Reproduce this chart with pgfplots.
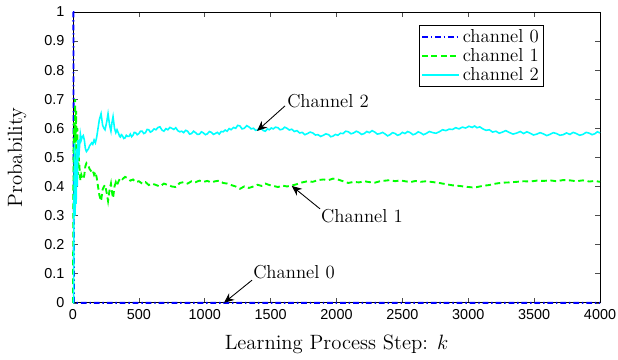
\documentclass[border=0pt]{standalone}
\usepackage{fontspec}
\setsansfont{Liberation Sans}
\usepackage{pgfplots}
\pgfplotsset{compat=1.18}
\usetikzlibrary{arrows.meta}
\definecolor{chblue}{rgb}{0,0,1}
\definecolor{chgreen}{rgb}{0,1,0}
\definecolor{chcyan}{rgb}{0,1,1}
\begin{document}
\begin{tikzpicture}
\begin{axis}[
  scale only axis, width=366pt, height=202pt,
  xmin=0, xmax=4000, ymin=0, ymax=1,
  clip=false,
  xtick={0,500,1000,1500,2000,2500,3000,3500,4000},
  ytick={0,0.1,0.2,0.3,0.4,0.5,0.6,0.7,0.8,0.9,1},
  scaled x ticks=false,
  /pgf/number format/1000 sep={},
  /pgf/number format/assume math mode=true,
  tick label style={font=\sffamily\fontsize{10}{12}\selectfont},
  yticklabel style={xshift=-2.5pt},
  xticklabel style={yshift=-1pt},
  tick align=inside, major tick length=3.5pt,
  every tick/.style={black!70, line width=0.4pt},
  axis line style={black, line width=0.5pt},
  xlabel={Learning Process Step: $k$},
  ylabel={Probability},
  label style={font=\fontsize{14.4}{16}\selectfont},
  x label style={at={(axis description cs:0.5,-0.144)}, anchor=center},
  y label style={at={(axis description cs:-0.106,0.5)}, anchor=center, rotate=0},
  legend style={at={(axis cs:3570,0.955)}, anchor=north east, draw=black, line width=0.5pt,
    font=\fontsize{13}{13}\selectfont, inner sep=1pt, row sep=-1.5pt,
    cells={anchor=west}},
  legend image code/.code={\draw[#1] (0cm,0cm) -- (0.9cm,0cm);},
]
\addplot[color=chblue, line width=1.3pt, dash pattern=on 4pt off 2pt on 1pt off 2pt] coordinates {
(0,1) (3,1) (6,0.3) (8,0) (4000,0)};
\addlegendentry{channel 0}
\addplot[color=chgreen, line width=1.3pt, dash pattern=on 4pt off 2.5pt] coordinates {
(0,0) (4,0.50) (8,0.62) (12,0.45) (16,0.70) (20,0.55) (24,0.66) (28,0.47) (33,0.60) (38,0.44)
(44,0.50) (50,0.46) (56,0.42) (63,0.44) (70,0.43) (78,0.425) (86,0.44) (94,0.47) (102,0.48)
(110,0.475) (118,0.47) (126,0.46) (134,0.455) (142,0.45) (150,0.455) (160,0.44) (170,0.45)
(180,0.43) (190,0.40) (200,0.37) (213,0.35) (225,0.39) (235,0.40) (243,0.405) (255,0.38)
(266,0.35) (278,0.39) (288,0.41) (296,0.38) (304,0.36) (315,0.40) (325,0.415) (334,0.405)
(348,0.42) (360,0.43) (375,0.425) (395,0.433) (415,0.428) (435,0.42) (455,0.424) (475,0.415)
(500,0.418) (525,0.41) (550,0.415) (575,0.405) (600,0.41) (630,0.405) (660,0.40) (690,0.41)
(720,0.405) (750,0.40) (780,0.398) (810,0.412) (840,0.415) (870,0.41) (900,0.418) (930,0.415)
(960,0.42) (990,0.416) (1020,0.419) (1050,0.414) (1080,0.418) (1110,0.42) (1140,0.412)
(1170,0.41) (1200,0.405) (1235,0.40) (1267,0.392) (1300,0.40) (1335,0.395) (1370,0.40)
(1400,0.406) (1430,0.402) (1460,0.41) (1490,0.405) (1520,0.402) (1555,0.398) (1590,0.403)
(1624,0.40) (1660,0.403) (1700,0.408) (1740,0.414) (1780,0.418) (1820,0.416) (1860,0.422)
(1900,0.424) (1940,0.422) (1973,0.427) (2010,0.424) (2050,0.418) (2090,0.412) (2130,0.416)
(2170,0.414) (2210,0.418) (2250,0.415) (2290,0.413) (2330,0.418) (2370,0.42) (2406,0.422)
(2445,0.418) (2482,0.421) (2520,0.418) (2560,0.415) (2600,0.419) (2640,0.416) (2680,0.418)
(2732,0.415) (2780,0.412) (2830,0.408) (2880,0.404) (2930,0.402) (2980,0.399) (3030,0.397)
(3066,0.398) (3110,0.402) (3160,0.405) (3210,0.41) (3260,0.413) (3310,0.414) (3370,0.416)
(3420,0.418) (3470,0.417) (3520,0.42) (3570,0.419) (3620,0.421) (3670,0.418) (3720,0.422)
(3772,0.421) (3820,0.418) (3870,0.421) (3920,0.417) (3960,0.419) (4000,0.416)};
\addlegendentry{channel 1}
\addplot[color=chcyan, line width=1.1pt] coordinates {
(0,0) (4,0) (8,0.38) (12,0.55) (16,0.30) (20,0.45) (24,0.34) (28,0.53) (33,0.40) (38,0.56)
(44,0.50) (50,0.54) (56,0.58) (63,0.56) (70,0.57) (78,0.575) (86,0.56) (94,0.53) (102,0.52)
(110,0.525) (118,0.53) (126,0.54) (134,0.545) (142,0.55) (150,0.545) (160,0.56) (170,0.55)
(180,0.57) (190,0.60) (200,0.63) (213,0.65) (225,0.61) (235,0.60) (243,0.595) (255,0.62)
(266,0.65) (278,0.61) (288,0.59) (296,0.62) (304,0.64) (315,0.60) (325,0.585) (334,0.595)
(348,0.58) (354,0.572) (360,0.57) (367,0.578) (375,0.575) (385,0.565) (395,0.567) (405,0.576)
(415,0.572) (425,0.572) (435,0.58) (445,0.571) (455,0.576) (465,0.586) (475,0.585) (487,0.578)
(500,0.582) (512,0.59) (525,0.59) (537,0.582) (550,0.585) (562,0.596) (575,0.595) (587,0.587)
(600,0.59) (615,0.598) (630,0.595) (645,0.603) (660,0.605) (675,0.594) (690,0.59) (705,0.599)
(720,0.595) (735,0.603) (750,0.60) (765,0.596) (780,0.602) (795,0.592) (810,0.588) (825,0.59)
(840,0.585) (855,0.593) (870,0.59) (885,0.58) (900,0.582) (915,0.59) (930,0.585) (945,0.579)
(960,0.58) (975,0.588) (990,0.584) (1005,0.578) (1020,0.581) (1035,0.589) (1050,0.586)
(1065,0.579) (1080,0.582) (1095,0.586) (1110,0.58) (1125,0.589) (1140,0.588) (1155,0.594)
(1170,0.59) (1185,0.599) (1200,0.595) (1218,0.603) (1235,0.60) (1250,0.61) (1267,0.608)
(1283,0.598) (1300,0.60) (1318,0.609) (1335,0.605) (1352,0.598) (1370,0.60) (1385,0.593)
(1400,0.594) (1415,0.601) (1430,0.598) (1445,0.592) (1460,0.59) (1475,0.598) (1490,0.595)
(1505,0.601) (1520,0.598) (1537,0.604) (1555,0.602) (1572,0.595) (1590,0.597) (1607,0.604)
(1624,0.60) (1642,0.594) (1660,0.597) (1680,0.589) (1700,0.592) (1720,0.584) (1740,0.586)
(1760,0.578) (1780,0.582) (1800,0.587) (1820,0.584) (1840,0.577) (1860,0.578) (1880,0.572)
(1900,0.576) (1920,0.581) (1940,0.578) (1956,0.571) (1973,0.573) (1992,0.579) (2010,0.576)
(2030,0.583) (2050,0.582) (2070,0.59) (2090,0.588) (2110,0.581) (2130,0.584) (2150,0.59)
(2170,0.586) (2190,0.579) (2210,0.582) (2230,0.589) (2250,0.585) (2270,0.592) (2290,0.587)
(2310,0.58) (2330,0.582) (2350,0.586) (2370,0.58) (2388,0.574) (2406,0.578) (2425,0.585)
(2445,0.582) (2463,0.576) (2482,0.579) (2500,0.586) (2520,0.582) (2540,0.589) (2560,0.585)
(2580,0.578) (2600,0.581) (2620,0.588) (2640,0.584) (2660,0.578) (2680,0.582) (2705,0.589)
(2732,0.585) (2755,0.583) (2780,0.588) (2805,0.595) (2830,0.592) (2855,0.597) (2880,0.596)
(2905,0.602) (2930,0.598) (2955,0.604) (2980,0.601) (3005,0.607) (3030,0.603) (3048,0.608)
(3066,0.602) (3088,0.605) (3110,0.598) (3135,0.593) (3160,0.595) (3185,0.587) (3210,0.59)
(3235,0.583) (3260,0.587) (3285,0.592) (3310,0.586) (3340,0.58) (3370,0.584) (3395,0.589)
(3420,0.582) (3445,0.588) (3470,0.583) (3495,0.577) (3520,0.58) (3545,0.585) (3570,0.581)
(3595,0.575) (3620,0.579) (3645,0.585) (3670,0.582) (3695,0.576) (3720,0.578) (3746,0.584)
(3772,0.579) (3796,0.586) (3820,0.582) (3845,0.576) (3870,0.579) (3895,0.586) (3920,0.583)
(3940,0.578) (3960,0.581) (3980,0.588) (4000,0.584)};
\addlegendentry{channel 2}
\node[anchor=west, inner sep=0pt, font=\fontsize{13}{13}\selectfont] at (axis cs:1624,0.695) {Channel 2};
\draw[-{Stealth[length=7pt,width=6pt]}, line width=0.6pt] (axis cs:1609,0.677) -- (axis cs:1397,0.591);
\node[anchor=west, inner sep=0pt, font=\fontsize{13}{13}\selectfont] at (axis cs:1882,0.299) {Channel 1};
\draw[-{Stealth[length=7pt,width=6pt]}, line width=0.6pt] (axis cs:1875,0.323) -- (axis cs:1660,0.402);
\node[anchor=west, inner sep=0pt, font=\fontsize{13}{13}\selectfont] at (axis cs:1366,0.107) {Channel 0};
\draw[-{Stealth[length=7pt,width=6pt]}, line width=0.6pt] (axis cs:1359,0.078) -- (axis cs:1146,0.0);
\end{axis}
\pgfresetboundingbox
\path (current axis.south west) ++(-50.7pt,-39.6pt) coordinate (bbsw);
\path (current axis.north east) ++(12.5pt,8.3pt) coordinate (bbne);
\useasboundingbox (bbsw) rectangle (bbne);
\end{tikzpicture}
\end{document}
